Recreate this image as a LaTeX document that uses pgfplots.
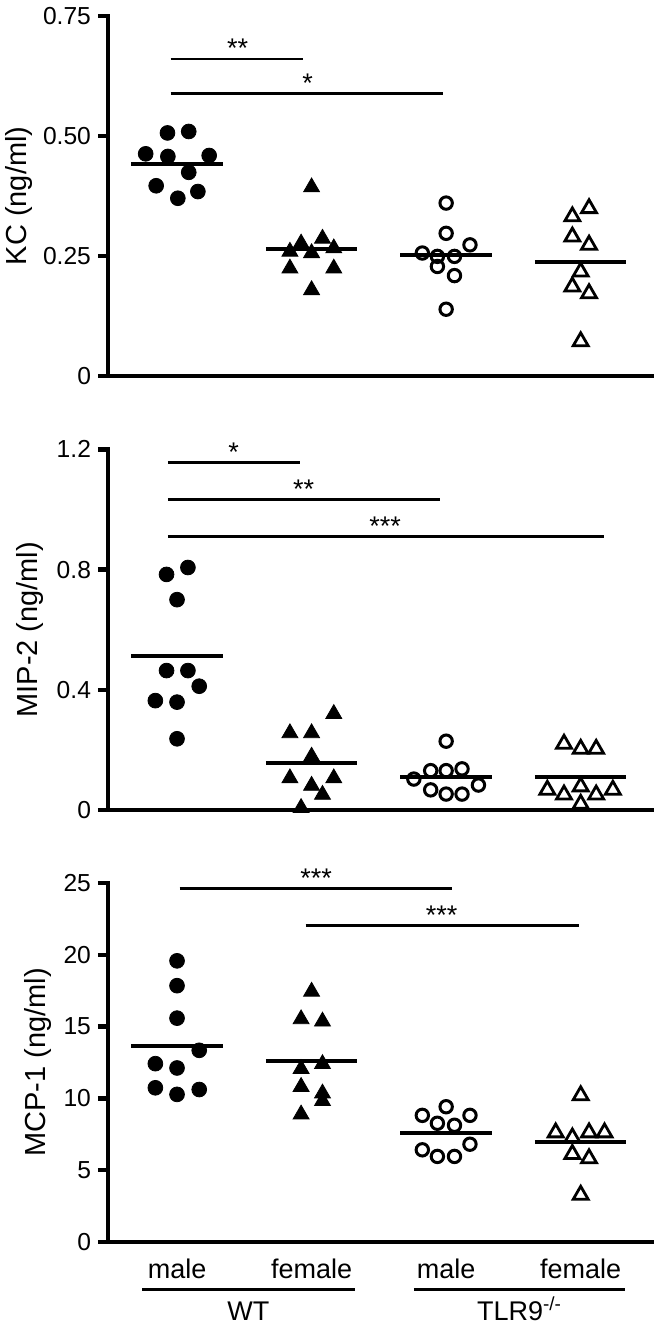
\documentclass[border=0pt]{standalone}
\usepackage{fontspec}
\setmainfont{Liberation Sans}
\usepackage{pgfplots}
\pgfplotsset{compat=1.18}
\tikzset{
  sig/.style={black, line width=1.4pt},
  star/.style={anchor=base, yshift=0.5pt, font=\fontsize{13.5}{15}\selectfont},
}
\pgfplotsset{
  panel/.style={
    scale only axis, width=272pt,
    xmin=-0.513, xmax=3.53,
    axis x line*=bottom, axis y line*=left,
    axis line style={line width=2.2pt, line cap=rect},
    every tick/.style={line width=2.2pt, black},
    major tick length=5pt, tick align=outside,
    xtick=\empty, ytick pos=left,
    clip=false,
    /pgf/number format/assume math mode=true,
    tick label style={font=\fontsize{12.3}{14}\selectfont},
  },
  ylab/.style={every axis y label/.style={at={(axis description cs:#1,0.5)}, rotate=90, anchor=base, font=\fontsize{14.5}{17}\selectfont}},
  fc/.style={only marks, mark=*, mark size=3.7pt, black, mark options={fill=black}},
  ft/.style={only marks, mark=triangle*, mark size=4.6pt, black, mark options={fill=black}},
  oc/.style={only marks, mark=o, mark size=3.1pt, black, mark options={line width=1.5pt}},
  ot/.style={only marks, mark=triangle, mark size=4.3pt, black, mark options={line width=1.4pt}},
  mean/.style={black, line width=2pt, no marks},
}
\begin{document}
\begin{tikzpicture}
\useasboundingbox (0,0) rectangle (329pt,-665.5pt);
% ---------------- KC ----------------
\begin{axis}[panel, at={(54pt,-188pt)}, anchor=south west, height=180.15pt,
  ymin=0, ymax=0.75, ytick={0,0.25,0.5,0.75}, yticklabels={0,0.25,0.50,0.75},
  ylabel={KC (ng/ml)}, ylab=-0.149]
\addplot[fc] coordinates {(-0.233,0.4625) (-0.068,0.457) (-0.071,0.506) (0.087,0.509) (0.239,0.459) (0.087,0.424) (-0.155,0.396) (0.155,0.384) (0.006,0.370)};
\addplot[ft] coordinates {(1,0.393) (0.922,0.276) (1.081,0.286) (0.839,0.259) (1,0.256) (1.165,0.266) (0.839,0.224) (1.165,0.224) (1,0.179)};
\addplot[oc] coordinates {(2,0.36) (2,0.297) (2.177,0.273) (1.823,0.256) (1.935,0.249) (2.062,0.249) (1.935,0.228) (2.062,0.209) (2,0.139)};
\addplot[ot] coordinates {(3.062,0.349) (2.938,0.332) (2.938,0.290) (3.062,0.273) (3,0.217) (2.938,0.186) (3.062,0.172) (3,0.072)};
\addplot[mean] coordinates {(-0.34,0.441) (0.34,0.441)};
\addplot[mean] coordinates {(0.66,0.265) (1.34,0.265)};
\addplot[mean] coordinates {(1.66,0.252) (2.34,0.252)};
\addplot[mean] coordinates {(2.66,0.238) (3.34,0.238)};
\draw[sig] (axis cs:-0.047,0.66) -- (axis cs:0.938,0.66);
\draw[sig] (axis cs:-0.047,0.5875) -- (axis cs:1.978,0.5875);
\node[star] at (axis cs:0.45,0.66) {**};
\node[star] at (axis cs:0.97,0.5875) {*};
\end{axis}
% ---------------- MIP-2 ----------------
\begin{axis}[panel, at={(54pt,-405pt)}, anchor=south west, height=180.3pt,
  ymin=0, ymax=1.2, ytick={0,0.4,0.8,1.2}, yticklabels={0,0.4,0.8,1.2},
  ylabel={MIP-2 (ng/ml)}, ylab=-0.1305]
\addplot[fc] coordinates {(0.081,0.807) (-0.078,0.784) (0,0.70) (-0.078,0.464) (0.081,0.464) (0.165,0.412) (-0.161,0.364) (0,0.359) (0,0.237)};
\addplot[ft] coordinates {(1.165,0.32) (0.839,0.256) (1,0.256) (1,0.178) (0.839,0.106) (1.165,0.106) (1,0.081) (1.081,0.051) (0.922,0.007)};
\addplot[oc] coordinates {(2,0.229) (1.885,0.131) (2,0.131) (2.118,0.137) (1.76,0.103) (2.24,0.083) (1.885,0.067) (2,0.053) (2.118,0.053)};
\addplot[ot] coordinates {(2.876,0.22) (3,0.203) (3.115,0.203) (2.752,0.067) (2.876,0.051) (3,0.078) (3.115,0.051) (3.239,0.067) (3,0.02)};
\addplot[mean] coordinates {(-0.34,0.511) (0.34,0.511)};
\addplot[mean] coordinates {(0.66,0.156) (1.34,0.156)};
\addplot[mean] coordinates {(1.66,0.111) (2.34,0.111)};
\addplot[mean] coordinates {(2.66,0.109) (3.34,0.109)};
\draw[sig] (axis cs:-0.068,1.156) -- (axis cs:0.916,1.156);
\draw[sig] (axis cs:-0.068,1.034) -- (axis cs:1.957,1.034);
\draw[sig] (axis cs:-0.068,0.911) -- (axis cs:3.17,0.911);
\node[star] at (axis cs:0.42,1.156) {*};
\node[star] at (axis cs:0.94,1.034) {**};
\node[star] at (axis cs:1.547,0.911) {***};
\end{axis}
% ---------------- MCP-1 ----------------
\begin{axis}[panel, at={(54pt,-621pt)}, anchor=south west, height=179.5pt,
  ymin=0, ymax=25, ytick={0,5,10,15,20,25}, yticklabels={0,5,10,15,20,25},
  ylabel={MCP-1 (ng/ml)}, ylab=-0.1158]
\addplot[fc] coordinates {(0,19.58) (0,17.85) (0,15.59) (0.165,13.35) (-0.161,12.42) (0,12.12) (-0.161,10.74) (0.165,10.62) (0,10.28)};
\addplot[ft] coordinates {(1,17.44) (0.922,15.52) (1.081,15.36) (0.922,12.06) (1.081,12.40) (0.922,10.81) (1.081,10.35) (1.081,9.82) (0.922,8.89)};
\addplot[oc] coordinates {(2,9.42) (1.823,8.82) (2.177,8.82) (1.935,8.27) (2.062,8.13) (2.177,6.81) (1.823,6.42) (1.935,5.96) (2.062,5.96)};
\addplot[ot] coordinates {(3,10.21) (2.814,7.62) (2.938,7.27) (3.062,7.62) (3.177,7.62) (2.938,6.12) (3.062,5.82) (3,3.28)};
\addplot[mean] coordinates {(-0.34,13.63) (0.34,13.63)};
\addplot[mean] coordinates {(0.66,12.59) (1.34,12.59)};
\addplot[mean] coordinates {(1.66,7.62) (2.34,7.62)};
\addplot[mean] coordinates {(2.66,6.97) (3.34,6.97)};
\draw[sig] (axis cs:0.019,24.6) -- (axis cs:2.04,24.6);
\draw[sig] (axis cs:0.956,22.06) -- (axis cs:2.99,22.06);
\node[star] at (axis cs:1.034,24.6) {***};
\node[star] at (axis cs:1.966,22.06) {***};
% category labels
\begin{scope}[every node/.style={anchor=base, font=\fontsize{13.5}{16}\selectfont}]
\node at (axis cs:0,-2.507) {male};
\node at (axis cs:1,-2.507) {female};
\node at (axis cs:2,-2.507) {male};
\node at (axis cs:3,-2.507) {female};
\node at (axis cs:0.53,-5.5) {WT};
\node at (axis cs:2.545,-5.5) {TLR9\textsuperscript{-/-}};
\end{scope}
\draw[black, line width=1.6pt] (axis cs:-0.26,-3.31) -- (axis cs:1.32,-3.31);
\draw[black, line width=1.6pt] (axis cs:1.76,-3.31) -- (axis cs:3.33,-3.31);
\end{axis}
\end{tikzpicture}
\end{document}
